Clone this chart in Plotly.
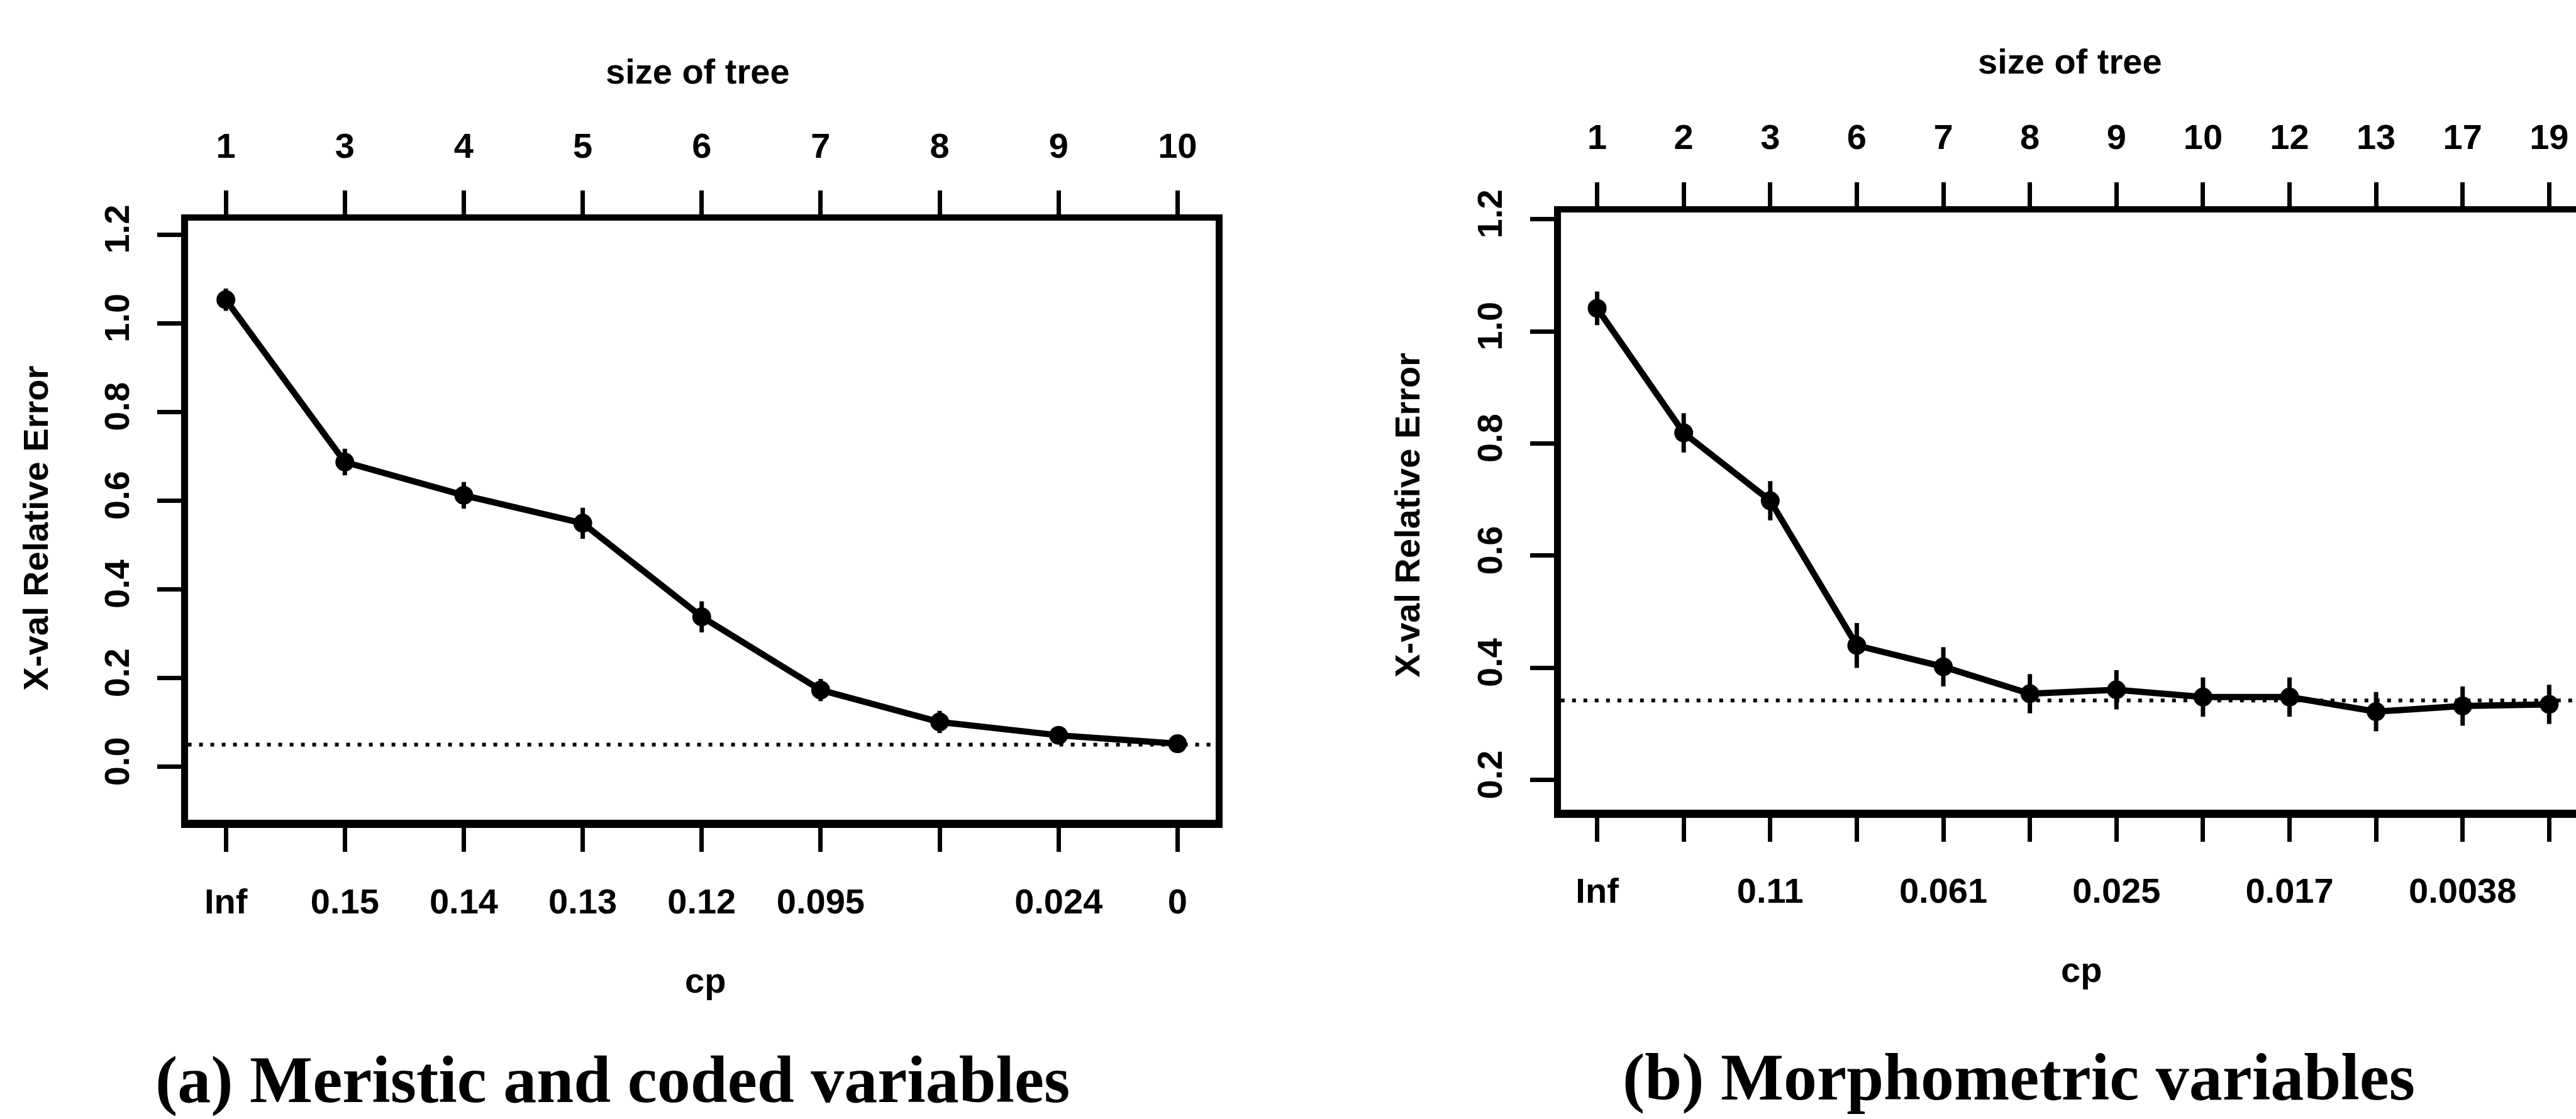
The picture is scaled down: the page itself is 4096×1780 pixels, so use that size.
import plotly.graph_objects as go

# ---------------- data ----------------
left_sizes = ["1", "3", "4", "5", "6", "7", "8", "9", "10"]
left_cp = ["Inf", "0.15", "0.14", "0.13", "0.12", "0.095", "", "0.024", "0"]
left_xerror = [1.053, 0.687, 0.612, 0.549, 0.338, 0.173, 0.101, 0.071, 0.052]
left_xstd = [0.025, 0.03, 0.03, 0.035, 0.035, 0.025, 0.025, 0.02, 0.02]
left_thresh = 0.05
left_yticks = [0.0, 0.2, 0.4, 0.6, 0.8, 1.0, 1.2]

right_sizes = ["1", "2", "3", "6", "7", "8", "9", "10", "12", "13", "17", "19"]
right_cp = ["Inf", "", "0.11", "", "0.061", "", "0.025", "", "0.017", "", "0.0038", ""]
right_xerror = [1.041, 0.819, 0.698, 0.440, 0.402, 0.354, 0.361, 0.348, 0.348, 0.322, 0.332, 0.335]
right_xstd = [0.03, 0.035, 0.035, 0.04, 0.035, 0.035, 0.035, 0.035, 0.035, 0.035, 0.035, 0.035]
right_thresh = 0.342
right_yticks = [0.2, 0.4, 0.6, 0.8, 1.0, 1.2]

caption_a = "(a) Meristic and coded variables"
caption_b = "(b) Morphometric variables"

# ---------------- style ----------------
W, H = 4096, 1780
SANS = "Liberation Sans, Arial, sans-serif"
SERIF = "Liberation Serif, Times New Roman, serif"
FS = 56
INK = "black"

lx = list(range(1, len(left_sizes) + 1))
rx = list(range(1, len(right_sizes) + 1))

fig = go.Figure()


def add_panel(xs, ys, errs, xa, ya, xtop):
    fig.add_trace(go.Scatter(
        x=xs, y=ys, xaxis=xa, yaxis=ya, mode="lines+markers",
        line=dict(color=INK, width=10),
        marker=dict(color=INK, size=30, symbol="circle"),
        error_y=dict(type="data", array=errs, visible=True, color=INK,
                     thickness=7, width=0),
        showlegend=False, hoverinfo="skip"))
    # invisible trace to carry the top ("size of tree") axis
    fig.add_trace(go.Scatter(
        x=xs, y=ys, xaxis=xtop, yaxis=ya, mode="markers",
        marker=dict(opacity=0), showlegend=False, hoverinfo="skip"))


add_panel(lx, left_xerror, left_xstd, "x", "y", "x3")
add_panel(rx, right_xerror, right_xstd, "x2", "y2", "x4")

L_dom_x = [0.0729, 0.4719]
L_dom_y = [0.2727, 0.8193]
R_dom_x = [0.6059, 1.0]
R_dom_y = [0.2820, 0.8269]

tickfont = dict(family=SANS, size=FS, color=INK, weight="bold")

common_x = dict(showgrid=False, zeroline=False, showline=True, linecolor=INK,
                ticks="outside", ticklen=38, tickwidth=7, tickcolor=INK,
                tickfont=tickfont, tickangle=0, ticklabelstandoff=30)
common_y = dict(showgrid=False, zeroline=False, showline=True, linecolor=INK,
                linewidth=11, ticks="outside", ticklen=38, tickwidth=7,
                tickcolor=INK, tickfont=tickfont, tickangle=-90,
                ticklabelstandoff=22)

fig.update_layout(
    width=W, height=H, margin=dict(l=0, r=0, t=0, b=0),
    paper_bgcolor="white", plot_bgcolor="white",
    font=dict(family=SANS, size=FS, color=INK),
    xaxis=dict(domain=L_dom_x, anchor="y", range=[0.68, 9.32],
               tickmode="array", tickvals=lx, ticktext=left_cp,
               linewidth=13, **common_x),
    yaxis=dict(domain=L_dom_y, anchor="x", range=[-0.12, 1.231],
               tickmode="array", tickvals=left_yticks,
               ticktext=[f"{v:.1f}" for v in left_yticks],
               mirror=True, **common_y),
    xaxis3=dict(overlaying="x", anchor="y", side="top", range=[0.68, 9.32],
                tickmode="array", tickvals=lx, ticktext=left_sizes,
                linewidth=10, **common_x),
    xaxis2=dict(domain=R_dom_x, anchor="y2", range=[0.58, 12.31],
                tickmode="array", tickvals=rx, ticktext=right_cp,
                linewidth=13, **common_x),
    yaxis2=dict(domain=R_dom_y, anchor="x2", range=[0.147, 1.212],
                tickmode="array", tickvals=right_yticks,
                ticktext=[f"{v:.1f}" for v in right_yticks],
                mirror=False, **common_y),
    xaxis4=dict(overlaying="x2", anchor="y2", side="top", range=[0.58, 12.31],
                tickmode="array", tickvals=rx, ticktext=right_sizes,
                linewidth=10, **common_x),
)

# dotted threshold lines
fig.add_shape(type="line", xref="x domain", yref="y", x0=0, x1=1,
              y0=left_thresh, y1=left_thresh,
              line=dict(color=INK, width=6, dash="6px,12px"))
fig.add_shape(type="line", xref="x2 domain", yref="y2", x0=0, x1=1,
              y0=right_thresh, y1=right_thresh,
              line=dict(color=INK, width=6, dash="6px,12px"))


def ann(text, x, y, size=FS, family=SANS, angle=0, xanchor="center"):
    fig.add_annotation(text=text, x=x, y=y, xref="paper", yref="paper",
                       showarrow=False, textangle=angle, xanchor=xanchor,
                       yanchor="middle",
                       font=dict(family=family, size=size, color=INK))


ann("<b>size of tree</b>", 0.2709, 0.9553)
ann("<b>size of tree</b>", 0.8035, 0.9646)
ann("<b>cp</b>", 0.2739, 0.1264)
ann("<b>cp</b>", 0.8081, 0.1360)
ann("<b>X-val Relative Error</b>", 0.01367, 0.5393, angle=-90)
ann("<b>X-val Relative Error</b>", 0.5464, 0.5506, angle=-90)
ann("<b>" + caption_a + "</b>", 0.0598, 0.036, size=106, family=SERIF,
    xanchor="left")
ann("<b>" + caption_b + "</b>", 0.6293, 0.038, size=106, family=SERIF,
    xanchor="left")

fig.write_html("out.html")
